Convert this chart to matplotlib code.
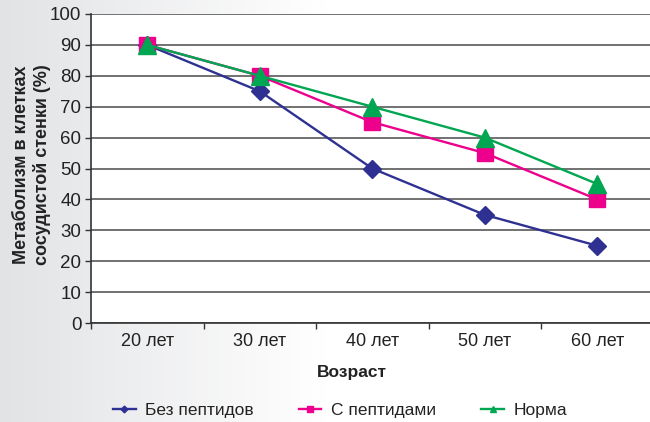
import numpy as np
import matplotlib
matplotlib.use("Agg")
import matplotlib.pyplot as plt
from matplotlib.colors import LinearSegmentedColormap

# ── Data ──────────────────────────────────────────────────────────────────────
ages = ["20 лет", "30 лет", "40 лет", "50 лет", "60 лет"]
no_peptides = [90, 75, 50, 35, 25]
with_peptides = [90, 80, 65, 55, 40]
norm = [90, 80, 70, 60, 45]

series_labels = ["Без пептидов", "С пептидами", "Норма"]

BLUE = "#2e3192"
MAGENTA = "#ec008c"
GREEN = "#00a651"

plt.rcParams["font.family"] = ["Liberation Sans", "DejaVu Sans"]

fig = plt.figure(figsize=(6.5, 4.22), dpi=100)

# background gradient (grey on the left -> white)
bg = fig.add_axes([0, 0, 1, 1], zorder=-10)
cmap = LinearSegmentedColormap.from_list("bg", ["#e2e3e5", "#ffffff", "#ffffff"])
grad = np.linspace(0, 1, 256).reshape(1, -1)
bg.imshow(grad, aspect="auto", cmap=cmap, extent=[0, 1, 0, 1])
bg.axis("off")

W, H = 650, 422
left, right, top, bottom = 91, 653.5, 14, 323
ax = fig.add_axes([left / W, 1 - bottom / H, (right - left) / W, (bottom - top) / H])
ax.set_facecolor("white")

x = np.arange(len(ages))
ax.plot(x, no_peptides, color=BLUE, lw=1.7, marker="D", ms=9.5, label=series_labels[0], zorder=3)
ax.plot(x, with_peptides, color=MAGENTA, lw=1.7, marker="s", ms=11.5, label=series_labels[1], zorder=3)
ax.plot(x, norm, color=GREEN, lw=1.7, marker="^", ms=12.5, label=series_labels[2], zorder=4)

ax.set_xlim(-0.5, len(ages) - 0.5)
ax.set_ylim(0, 100)
ax.set_yticks(range(0, 101, 10))
ax.yaxis.grid(True, color="#4a4a4a", lw=1.1)
ax.set_axisbelow(True)

# category ticks sit on band boundaries, labels at centres
ax.set_xticks(np.arange(-0.5, len(ages), 1))
ax.set_xticklabels([])
ax.set_xticks(x, minor=True)
ax.set_xticklabels(ages, minor=True)
ax.tick_params(axis="x", which="major", length=4, width=1, color="#333333", direction="out")
ax.tick_params(axis="x", which="minor", length=0, pad=7, labelsize=13, labelcolor="#222222")
ax.tick_params(axis="y", length=4, width=1, color="#333333", pad=3, labelsize=13.5, labelcolor="#222222")

for s in ["top", "right"]:
    ax.spines[s].set_visible(False)
for s in ["left", "bottom"]:
    ax.spines[s].set_color("#333333")
    ax.spines[s].set_linewidth(1.2)

fig.text(352 / W, 1 - 373 / H, "Возраст", ha="center", va="center",
         fontsize=12.5, fontweight="bold", color="#222222")
fig.text(32 / W, 1 - 165 / H, "Метаболизм в клетках\nсосудистой стенки (%)",
         rotation=90, ha="center", va="center", multialignment="center",
         fontsize=13, fontweight="bold", color="#222222", linespacing=1.15)

leg = fig.legend(loc="center", bbox_to_anchor=(340 / W, 1 - 410 / H), ncol=3,
                 frameon=False, fontsize=12.5, markerscale=0.36,
                 handlelength=1.3, handletextpad=0.55, columnspacing=2.6)
for t in leg.get_texts():
    t.set_color("#222222")

fig.savefig("out.png", dpi=100)
